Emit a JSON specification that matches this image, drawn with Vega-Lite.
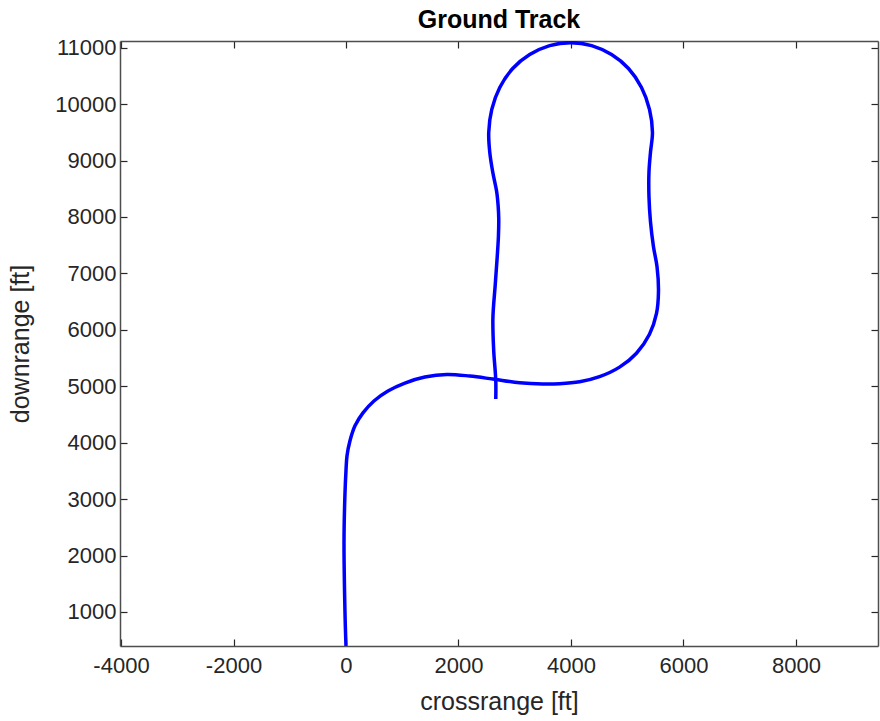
{
  "$schema": "https://vega.github.io/schema/vega-lite/v6.json",
  "width": 758,
  "height": 605,
  "autosize": {"type": "none"},
  "padding": {"left": 120, "top": 41, "right": 2, "bottom": 75},
  "background": "white",
  "title": {"text": "Ground Track", "font": "Liberation Sans", "fontSize": 25, "fontWeight": "bold", "color": "#000000", "anchor": "middle", "offset": 4},
  "config": {
    "view": {"stroke": null},
    "axis": {
      "grid": false,
      "domainColor": "#4d4d4d",
      "domainWidth": 1.5,
      "tickColor": "#262626",
      "tickWidth": 1.2,
      "tickSize": -7,
      "labelFont": "Liberation Sans",
      "labelFontSize": 22,
      "labelColor": "#262626",
      "labelExpr": "'' + datum.value",
      "titleFont": "Liberation Sans",
      "titleFontSize": 25,
      "titleFontWeight": "normal",
      "titleColor": "#262626",
      "labelFlush": false,
      "labelOverlap": false
    }
  },
  "data": {"values": [
    {"i": 1, "x": 0, "y": 400},
    {"i": 2, "x": -18, "y": 1000},
    {"i": 3, "x": -35, "y": 2270},
    {"i": 4, "x": -18, "y": 3100},
    {"i": 5, "x": 0, "y": 3505},
    {"i": 6, "x": 18, "y": 3769},
    {"i": 7, "x": 71, "y": 4034},
    {"i": 8, "x": 160, "y": 4299},
    {"i": 9, "x": 302, "y": 4528},
    {"i": 10, "x": 497, "y": 4740},
    {"i": 11, "x": 746, "y": 4916},
    {"i": 12, "x": 1047, "y": 5057},
    {"i": 13, "x": 1402, "y": 5163},
    {"i": 14, "x": 1793, "y": 5210},
    {"i": 15, "x": 2201, "y": 5181},
    {"i": 16, "x": 2609, "y": 5128},
    {"i": 17, "x": 3089, "y": 5062},
    {"i": 18, "x": 3497, "y": 5040},
    {"i": 19, "x": 3799, "y": 5045},
    {"i": 20, "x": 4154, "y": 5080},
    {"i": 21, "x": 4508, "y": 5170},
    {"i": 22, "x": 4864, "y": 5339},
    {"i": 23, "x": 5165, "y": 5586},
    {"i": 24, "x": 5396, "y": 5922},
    {"i": 25, "x": 5521, "y": 6292},
    {"i": 26, "x": 5556, "y": 6680},
    {"i": 27, "x": 5530, "y": 7121},
    {"i": 28, "x": 5467, "y": 7474},
    {"i": 29, "x": 5414, "y": 7915},
    {"i": 30, "x": 5387, "y": 8356},
    {"i": 31, "x": 5387, "y": 8797},
    {"i": 32, "x": 5414, "y": 9150},
    {"i": 33, "x": 5449, "y": 9502},
    {"i": 34, "x": 5396, "y": 9908},
    {"i": 35, "x": 5254, "y": 10296},
    {"i": 36, "x": 5023, "y": 10631},
    {"i": 37, "x": 4722, "y": 10878},
    {"i": 38, "x": 4367, "y": 11037},
    {"i": 39, "x": 3994, "y": 11090},
    {"i": 40, "x": 3621, "y": 11037},
    {"i": 41, "x": 3266, "y": 10878},
    {"i": 42, "x": 2964, "y": 10631},
    {"i": 43, "x": 2734, "y": 10296},
    {"i": 44, "x": 2592, "y": 9908},
    {"i": 45, "x": 2538, "y": 9502},
    {"i": 46, "x": 2556, "y": 9150},
    {"i": 47, "x": 2609, "y": 8797},
    {"i": 48, "x": 2680, "y": 8444},
    {"i": 49, "x": 2705, "y": 8200},
    {"i": 50, "x": 2716, "y": 7968},
    {"i": 51, "x": 2710, "y": 7650},
    {"i": 52, "x": 2689, "y": 7297},
    {"i": 53, "x": 2654, "y": 6804},
    {"i": 54, "x": 2612, "y": 6204},
    {"i": 55, "x": 2627, "y": 5622},
    {"i": 56, "x": 2663, "y": 5110},
    {"i": 57, "x": 2663, "y": 4775}
  ]},
  "layer": [
    {
      "mark": {"type": "line", "color": "#0000ff", "strokeWidth": 3.5, "interpolate": "catmull-rom", "clip": true},
      "encoding": {
        "x": {"field": "x", "type": "quantitative", "scale": {"domain": [-4018, 9459], "nice": false, "zero": false},
              "axis": {"orient": "bottom", "values": [-4000, -2000, 0, 2000, 4000, 6000, 8000], "title": "crossrange [ft]", "labelPadding": 16, "titleY": 63, "titleBaseline": "alphabetic"}},
        "y": {"field": "y", "type": "quantitative", "scale": {"domain": [397, 11119], "nice": false, "zero": false},
              "axis": {"orient": "left", "values": [1000, 2000, 3000, 4000, 5000, 6000, 7000, 8000, 9000, 10000, 11000], "title": "downrange [ft]", "labelPadding": 11, "titleX": -92, "titleBaseline": "alphabetic"}},
        "order": {"field": "i", "type": "quantitative"}
      }
    },
    {
      "mark": {"type": "line", "strokeOpacity": 0},
      "encoding": {
        "x": {"field": "x", "type": "quantitative", "scale": {"domain": [-4018, 9459], "nice": false, "zero": false},
              "axis": {"orient": "top", "values": [-4000, -2000, 0, 2000, 4000, 6000, 8000], "labels": false, "title": null}},
        "y": {"field": "y", "type": "quantitative", "scale": {"domain": [397, 11119], "nice": false, "zero": false},
              "axis": {"orient": "right", "values": [1000, 2000, 3000, 4000, 5000, 6000, 7000, 8000, 9000, 10000, 11000], "labels": false, "title": null}},
        "order": {"field": "i", "type": "quantitative"}
      }
    }
  ],
  "resolve": {"axis": {"x": "independent", "y": "independent"}}
}
